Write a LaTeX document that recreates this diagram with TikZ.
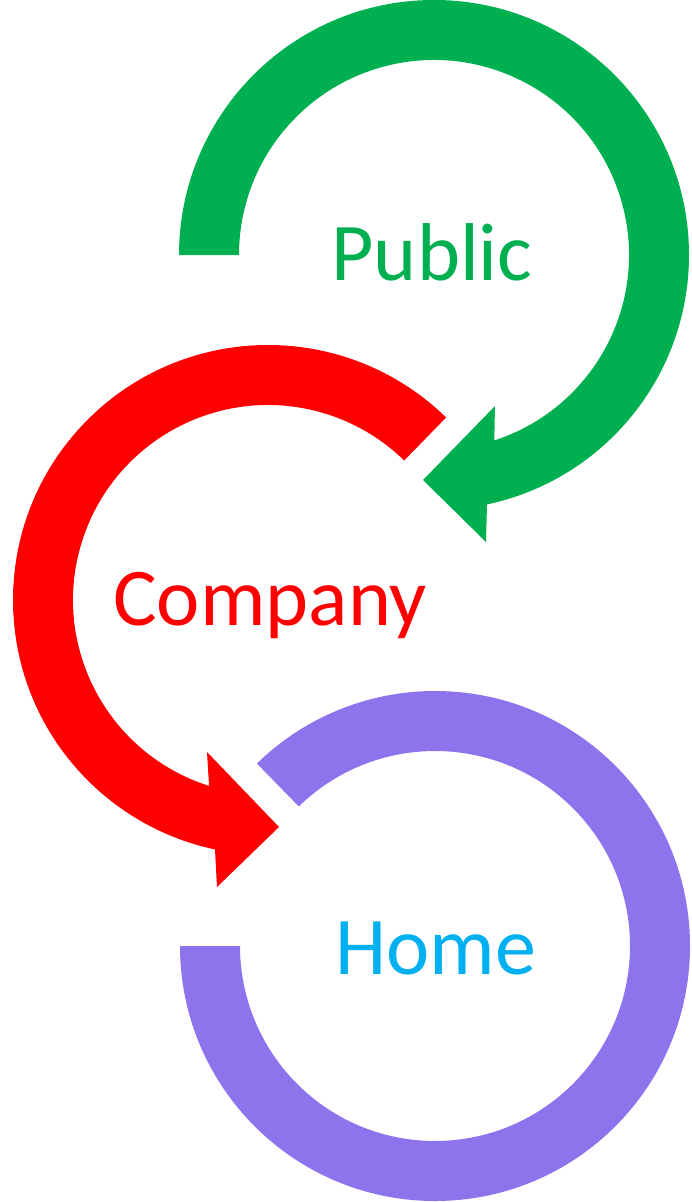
\documentclass[tikz,border=0pt]{standalone}
\usepackage{fontspec}
\setmainfont{Carlito}
\usepackage{tikz}
\definecolor{cycgreen}{HTML}{00B050}
\definecolor{cycred}{HTML}{FF0000}
\definecolor{cycpurple}{RGB}{142,116,236}
\definecolor{cycblue}{HTML}{00B0F0}

\begin{document}
\begin{tikzpicture}[x=1pt,y=1pt,
  lbl/.style={anchor=base,inner sep=0pt,font=\fontsize{82}{98}\selectfont},
  ring/.style={draw=none}]
\useasboundingbox (0,0) rectangle (692,-1202);
% public: from the left, clockwise, arrow into company
\begin{scope}[shift={(434,-255)}]
\fill[ring,cycgreen] (180:255) arc[start angle=180,end angle=-78,radius=255]
  -- (52,-287) -- (-11,-225) -- (61,-151)
  -- (-72:195) arc[start angle=-72,end angle=180,radius=195] -- cycle;
\end{scope}
% company: from the top right, anticlockwise, arrow into home
\begin{scope}[shift={(268,-600)}]
\fill[ring,cycred] (45.7:255) arc[start angle=45.7,end angle=258,radius=255]
  -- (-51,-287) -- (11,-227) -- (-61,-152)
  -- (252.4:195) arc[start angle=252.4,end angle=45.7,radius=195] -- cycle;
\end{scope}
% home: no arrow
\begin{scope}[shift={(435,-946)}]
\fill[ring,cycpurple] (180:255) arc[start angle=180,end angle=494.3,radius=255]
  -- (494.3:195) arc[start angle=494.3,end angle=180,radius=195] -- cycle;
\end{scope}
\node[lbl,text=cycgreen] (public) at (432,-280) {Public};
\node[lbl,text=cycred] (company) at (270,-625) {Company};
\node[lbl,text=cycblue] (home) at (436,-974) {Home};
\end{tikzpicture}
\end{document}
